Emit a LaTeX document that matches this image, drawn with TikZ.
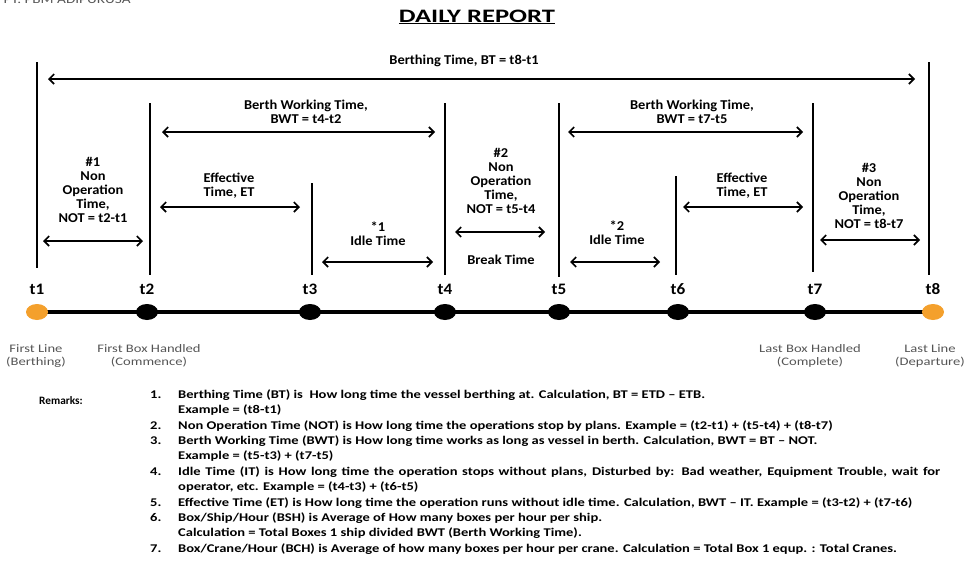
\documentclass[tikz,border=0pt]{standalone}
\usepackage{fontspec}
\setmainfont{Carlito}
\newfontfamily\lblfont{Carlito}[FakeStretch=1.07]
\newfontfamily\remfont{Carlito}[FakeStretch=1.23]
\newfontfamily\subfont{Carlito}[FakeStretch=1.27]
\newfontfamily\ttlfont{Carlito}[FakeStretch=1.4]
\usetikzlibrary{arrows.meta,shapes.geometric}
\definecolor{dotorange}{HTML}{F4A02C}
\definecolor{notegray}{HTML}{555555}

\begin{document}
\begin{tikzpicture}[x=1pt,y=-1pt,
  lbl/.style={font=\lblfont\bfseries\fontsize{13.5}{14}\selectfont,align=center,inner sep=0pt},
  tlab/.style={font=\lblfont\bfseries\fontsize{16}{16}\selectfont,inner sep=0pt},
  sub/.style={font=\subfont\fontsize{11.5}{13}\selectfont,text=notegray,align=center,inner sep=0pt},
  rem/.style={font=\remfont\bfseries\fontsize{11.8}{12}\selectfont,anchor=base west,inner sep=0pt},
  dim/.style={{Straight Barb[length=5pt,width=10pt]}-{Straight Barb[length=5pt,width=10pt]},line width=1.6pt},
  tick/.style={line width=2.2pt},
  dot/.style={ellipse,minimum width=22pt,minimum height=16pt,inner sep=0pt}]
\useasboundingbox (0,0) rectangle (970,565);

% header
\node[anchor=base west,text=notegray,font=\subfont\fontsize{12}{12}\selectfont] (co) at (0,3) {PT. PBM ADIPURUSA};
\node[anchor=base,font=\ttlfont\bfseries\fontsize{19}{19}\selectfont] (title) at (477,22) {\underline{DAILY REPORT}};

% vertical markers
\draw[tick] (37,62) -- (37,268);
\draw[tick] (150,103) -- (150,275);
\draw[tick] (312,183) -- (312,275);
\draw[tick] (445,103) -- (445,275);
\draw[tick] (559,103) -- (559,277);
\draw[tick] (676,176) -- (676,275);
\draw[tick] (813,103) -- (813,272);
\draw[tick] (929,62) -- (929,275);

% spans
\draw[dim] (48,79) -- (915,79);
\node[lbl] (bt) at (464,61) {Berthing Time, BT = t8-t1};
\draw[dim] (162,132) -- (435,132);
\node[lbl] (bwt1) at (306,112) {Berth Working Time,\\BWT = t4-t2};
\draw[dim] (568,132) -- (803,132);
\node[lbl] (bwt2) at (692,112) {Berth Working Time,\\BWT = t7-t5};
\draw[dim] (43,241) -- (143,241);
\node[lbl] (not1) at (93,190) {\#1\\Non\\Operation\\Time,\\NOT = t2-t1};
\draw[dim] (160,207) -- (300,207);
\node[lbl] (et1) at (229,186) {Effective\\Time, ET};
\draw[dim] (322,262) -- (433,262);
\node[lbl] (idle1) at (378,234) {*1\\Idle Time};
\draw[dim] (455,232) -- (545,232);
\node[lbl] (not2) at (501,181) {\#2\\Non\\Operation\\Time,\\NOT = t5-t4};
\node[lbl] (brk) at (501,260) {Break Time};
\draw[dim] (570,262) -- (660,262);
\node[lbl] (idle2) at (617,233) {*2\\Idle Time};
\draw[dim] (683,207) -- (803,207);
\node[lbl] (et2) at (742,186) {Effective\\Time, ET};
\draw[dim] (820,240) -- (920,240);
\node[lbl] (not3) at (869,196) {\#3\\Non\\Operation\\Time,\\NOT = t8-t7};

% timeline
\foreach \i/\x in {1/37,2/147,3/310,4/445,5/559,6/678,7/815,8/933}{
  \coordinate (p\i) at (\x,312);
  \node[tlab] (l\i) at (\x,289) {t\i};
}
\draw[line width=3.5pt] (p1) -- (p8);
\node[dot,fill=dotorange] (d1) at (p1) {};
\foreach \i in {2,...,7} \node[dot,fill=black] (d\i) at (p\i) {};
\node[dot,fill=dotorange] (d8) at (p8) {};

\node[sub] (s1) at (36,356) {First Line\\(Berthing)};
\node[sub] (s2) at (149,356) {First Box Handled\\(Commence)};
\node[sub] (s7) at (810,356) {Last Box Handled\\(Complete)};
\node[sub] (s8) at (930,356) {Last Line\\(Departure)};

% remarks
\node[rem,font=\bfseries\fontsize{11.3}{12}\selectfont] (remk) at (39,404) {Remarks:};
\foreach \n/\y in {1/398,2/429,3/444,4/475,5/506,6/521,7/552}
  \node[rem] (n\n) at (150,\y) {\n.};
\foreach \y/\txt in {
  398/{Berthing Time (BT) is\ \ How long time the vessel berthing at. Calculation, BT = ETD – ETB.},
  413/{Example = (t8-t1)},
  429/{Non Operation Time (NOT) is How long time the operations stop by plans. Example = (t2-t1) + (t5-t4) + (t8-t7)},
  444/{Berth Working Time (BWT) is How long time works as long as vessel in berth. Calculation, BWT = BT – NOT.},
  459/{Example = (t5-t3) + (t7-t5)},
  490/{operator, etc. Example = (t4-t3) + (t6-t5)},
  506/{Effective Time (ET) is How long time the operation runs without idle time. Calculation, BWT – IT. Example = (t3-t2) + (t7-t6)},
  521/{Box/Ship/Hour (BSH) is Average of How many boxes per hour per ship.},
  536/{Calculation = Total Boxes 1 ship divided BWT (Berth Working Time).},
  552/{Box/Crane/Hour (BCH) is Average of how many boxes per hour per crane. Calculation = Total Box 1 equp. : Total Cranes.}}
  \node[rem] (r\y) at (178,\y) {\txt};
\node[rem] (r475) at (178,475) {\makebox[762pt][s]{Idle Time (IT) is How long time the operation stops without plans, Disturbed by: Bad weather, Equipment Trouble, wait for}};
\end{tikzpicture}
\end{document}
